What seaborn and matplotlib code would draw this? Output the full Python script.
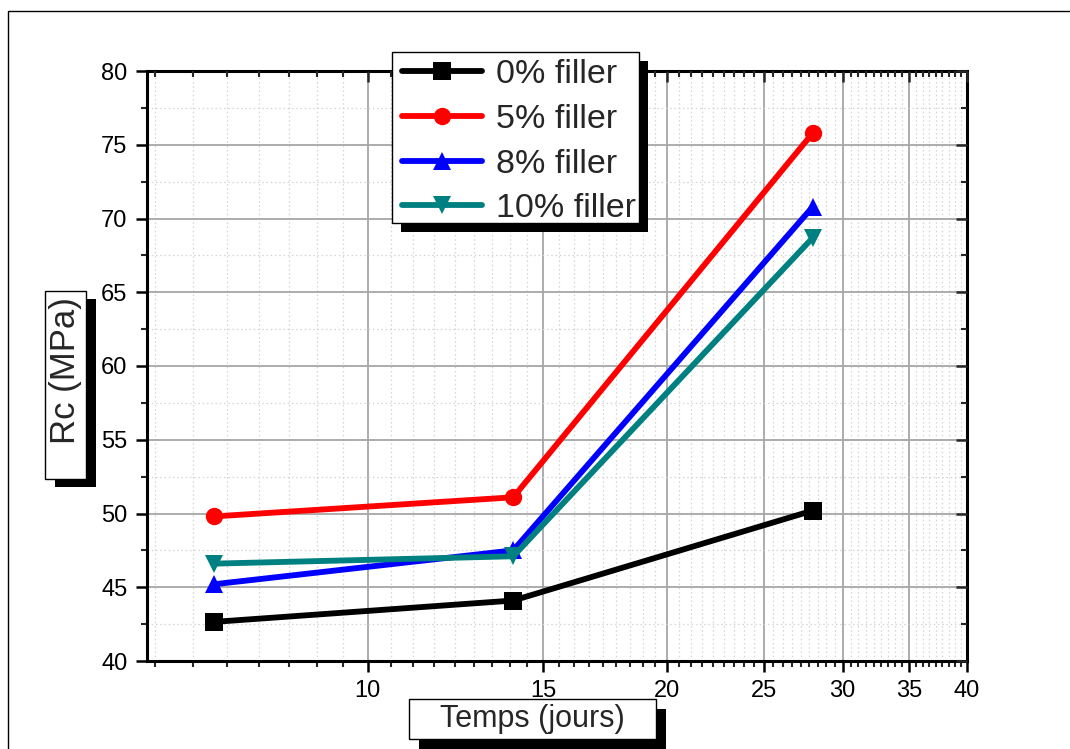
import numpy as np
import pandas as pd
import seaborn as sns
import matplotlib
matplotlib.use("Agg")
import matplotlib.pyplot as plt
from matplotlib.patches import Rectangle
from matplotlib.lines import Line2D
from matplotlib.ticker import FixedLocator, NullFormatter, FixedFormatter

# ---- data -------------------------------------------------------------
days = [7, 14, 28]
series_names = ["0% filler", "5% filler", "8% filler", "10% filler"]
rc_0 = [42.65, 44.1, 50.2]
rc_5 = [49.8, 51.1, 75.8]
rc_8 = [45.2, 47.5, 70.8]
rc_10 = [46.6, 47.1, 68.7]
x_ticks = [10, 15, 20, 25, 30, 35, 40]
y_ticks = [40, 45, 50, 55, 60, 65, 70, 75, 80]
x_label = "Temps (jours)"
y_label = "Rc (MPa)"

colors = ["#000000", "#ff0000", "#0000ff", "#008080"]
markers = ["s", "o", "^", "v"]

df = pd.DataFrame({
    "jours": days * 4,
    "Rc": rc_0 + rc_5 + rc_8 + rc_10,
    "serie": [n for n in series_names for _ in days],
})

sns.set_theme(style="white")
plt.rcParams["font.family"] = ["Liberation Sans", "DejaVu Sans"]

W, H = 1070, 749
fig = plt.figure(figsize=(W / 100, H / 100), dpi=100)
L, R, T, B = 147, 967, 71, 661
ax = fig.add_axes([L / W, 1 - B / H, (R - L) / W, (B - T) / H])

for name, col, mk in zip(series_names, colors, markers):
    sub = df[df["serie"] == name]
    sns.lineplot(data=sub, x="jours", y="Rc", ax=ax, color=col, marker=mk,
                 markersize=12.5, markeredgewidth=0, linewidth=4.2,
                 legend=False, zorder=3)

ax.set_xscale("log")
ax.set_xlim(6, 40)
ax.set_ylim(40, 80)

minor_x = [v for v in np.arange(5, 40.001, 5 / 9)
           if all(abs(v - m) > 1e-6 for m in x_ticks)]
minor_y = list(np.arange(42.5, 80, 5))

ax.xaxis.set_major_locator(FixedLocator(x_ticks))
ax.xaxis.set_major_formatter(FixedFormatter([str(t) for t in x_ticks]))
ax.xaxis.set_minor_locator(FixedLocator(minor_x))
ax.xaxis.set_minor_formatter(NullFormatter())
ax.yaxis.set_major_locator(FixedLocator(y_ticks))
ax.yaxis.set_minor_locator(FixedLocator(minor_y))

ax.set_xlabel("")
ax.set_ylabel("")

ax.grid(which="major", color="#a6a6a6", linewidth=1.3, linestyle="-")
ax.grid(which="minor", color="#d4d4d4", linewidth=0.9, linestyle=(0, (1.2, 2.2)))
ax.set_axisbelow(True)

for s in ax.spines.values():
    s.set_color("black")
    s.set_linewidth(2.2)

ax.tick_params(which="major", direction="out", length=8, width=1.8,
               labelsize=17, colors="black", pad=6,
               bottom=True, left=True, top=False, right=False)
ax.tick_params(which="minor", direction="out", length=4, width=1.5,
               bottom=True, left=True, top=False, right=False)

# mirrored inward ticks on top and right
axt = ax.twiny()
axt.set_xscale("log")
axt.set_xlim(ax.get_xlim())
axt.xaxis.set_major_locator(FixedLocator(x_ticks))
axt.xaxis.set_minor_locator(FixedLocator(minor_x))
axt.xaxis.set_major_formatter(NullFormatter())
axt.xaxis.set_minor_formatter(NullFormatter())
axt.tick_params(axis="x", which="major", direction="in", length=8, width=1.8)
axt.tick_params(axis="x", which="minor", direction="in", length=4, width=1.5)
axt.grid(False)
axr = ax.twinx()
axr.set_ylim(ax.get_ylim())
axr.yaxis.set_major_locator(FixedLocator(y_ticks))
axr.yaxis.set_minor_locator(FixedLocator(minor_y))
axr.yaxis.set_major_formatter(NullFormatter())
axr.tick_params(axis="y", which="major", direction="in", length=8, width=1.8)
axr.tick_params(axis="y", which="minor", direction="in", length=4, width=1.5)
axr.grid(False)
for a in (axt, axr):
    for s in a.spines.values():
        s.set_visible(False)


def boxed(x0, y0, x1, y1, dx, dy):
    """White box with a hard black drop shadow, given in pixel coordinates."""
    fig.patches.append(Rectangle(((x0 + dx) / W, 1 - (y1 + dy) / H),
                                 (x1 - x0) / W, (y1 - y0) / H,
                                 transform=fig.transFigure, facecolor="black",
                                 edgecolor="none", zorder=10))
    fig.patches.append(Rectangle((x0 / W, 1 - y1 / H), (x1 - x0) / W,
                                 (y1 - y0) / H, transform=fig.transFigure,
                                 facecolor="white", edgecolor="black",
                                 linewidth=1.0, zorder=11))


# axis titles in shadowed boxes
boxed(409, 699, 656, 739, 10, 10)
fig.text((409 + 656) / 2 / W, 1 - 719 / H, x_label, ha="center", va="center",
         fontsize=22, zorder=12)
boxed(45, 291, 86, 479, 10, 8)
fig.text(66 / W, 1 - 371 / H, y_label, ha="center", va="center",
         rotation=90, fontsize=25, zorder=12)

# legend
boxed(392, 52, 639, 223, 9, 9)
handles = [Line2D([], [], color=c, marker=m, markersize=12.5, markeredgewidth=0,
                  linewidth=4.2) for c, m in zip(colors, markers)]
leg = fig.legend(handles, series_names, loc="upper left",
                 bbox_to_anchor=(399 / W, 1 - 56 / H), frameon=False,
                 fontsize=24.5, handlelength=2.35, handletextpad=0.4,
                 labelspacing=0.4, borderpad=0.1, borderaxespad=0)
leg.set_zorder(13)

# page frame
fig.patches.append(Rectangle((8 / W, -0.05), 1.2, 1 - 11 / H + 0.05,
                             transform=fig.transFigure, facecolor="none",
                             edgecolor="black", linewidth=1.0, zorder=20))

fig.savefig("out.png", dpi=100, facecolor="white")
